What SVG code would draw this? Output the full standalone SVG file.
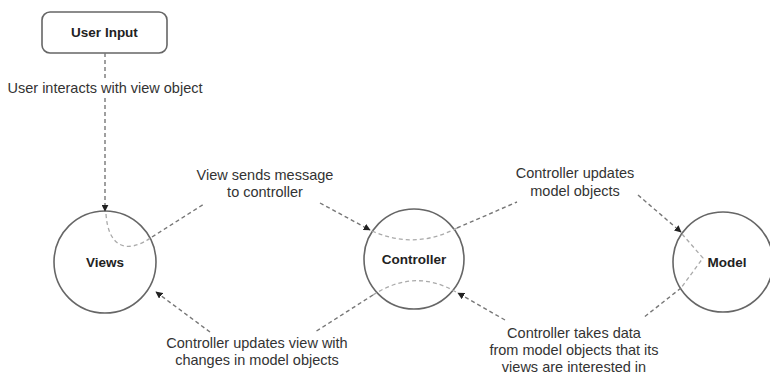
<svg xmlns="http://www.w3.org/2000/svg" width="770" height="377" viewBox="0 0 770 377">
<style>
.lbl{font-family:"Liberation Sans",Arial,sans-serif;font-size:14.5px;fill:#333;text-anchor:middle}
.nt{font-family:"Liberation Sans",Arial,sans-serif;font-size:13.5px;font-weight:bold;fill:#222;text-anchor:middle}
.node{fill:#fff;stroke:#666;stroke-width:1.6}
.dash{fill:none;stroke:#777;stroke-width:1.4;stroke-dasharray:4 3}
.dash-in{fill:none;stroke:#aaa;stroke-width:1.3;stroke-dasharray:4 3}
</style>
<defs>
<marker id="arr" viewBox="0 0 10 10" refX="9" refY="5" markerWidth="7" markerHeight="7" markerUnits="userSpaceOnUse" orient="auto">
<path d="M0,0 L10,5 L0,10 z" fill="#222"/>
</marker>
</defs>
<g id="userInput">
<rect class="node" x="42" y="12" width="125" height="41" rx="8"/>
<text class="nt" x="104.5" y="37">User Input</text>
</g>
<g id="views">
<circle class="node" cx="105" cy="262" r="51"/>
<text class="nt" x="105" y="267">Views</text>
</g>
<g id="controller">
<circle class="node" cx="414" cy="259" r="50"/>
<text class="nt" x="414" y="264">Controller</text>
</g>
<g id="model">
<circle class="node" cx="723" cy="262" r="50"/>
<text class="nt" x="727" y="267">Model</text>
</g>
<g id="connectors">
<path class="dash" d="M105 53 L105 79 M105 98 L105 211" marker-end="url(#arr)"/>
<path class="dash-in" d="M106 214 C108 245 125 256 152 237"/>
<path class="dash" d="M152 237 L204 204"/>
<path class="dash" d="M320 203 L370 230" marker-end="url(#arr)"/>
<path class="dash-in" d="M372 231 Q415 250 457 228"/>
<path class="dash" d="M457 228 L517 202"/>
<path class="dash" d="M638 195 L681 232" marker-end="url(#arr)"/>
<path class="dash-in" d="M682 234 L703 258 L681 288"/>
<path class="dash" d="M681 288 L643 318"/>
<path class="dash" d="M505 320 L458 293" marker-end="url(#arr)"/>
<path class="dash-in" d="M456 292 Q415 268 373 295"/>
<path class="dash" d="M373 295 L315 332"/>
<path class="dash" d="M210 332 L156 292" marker-end="url(#arr)"/>
</g>
<g id="labels">
<text class="lbl" x="105" y="93">User interacts with view object</text>
<text class="lbl" x="265" y="180">View sends message</text>
<text class="lbl" x="265" y="197">to controller</text>
<text class="lbl" x="575" y="178">Controller updates</text>
<text class="lbl" x="575" y="196">model objects</text>
<text class="lbl" x="257" y="348">Controller updates view with</text>
<text class="lbl" x="257" y="365">changes in model objects</text>
<text class="lbl" x="574" y="338">Controller takes data</text>
<text class="lbl" x="574" y="355">from model objects that its</text>
<text class="lbl" x="574" y="372">views are interested in</text>
</g>
</svg>
